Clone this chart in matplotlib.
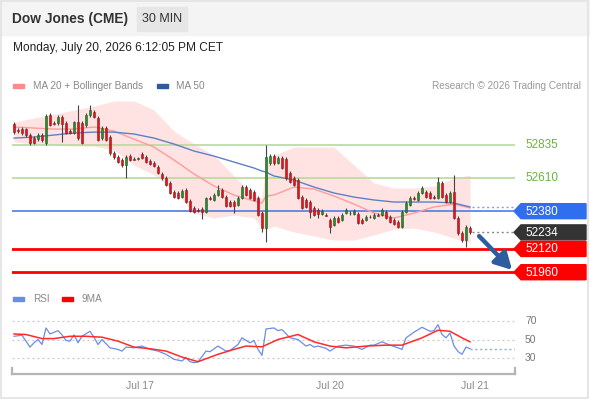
import matplotlib
matplotlib.use("Agg")
import matplotlib.pyplot as plt
from matplotlib.patches import Rectangle, Polygon

plt.rcParams['font.family'] = ['Liberation Sans', 'DejaVu Sans']

# ---------------- data ----------------
opens = [52979,52938,52945,52945,52904,52883,52876,52904,52849,53041,
         52986,52986,53028,52986,52931,52918,52993,52986,52973,53041,
         53062,53021,52883,52952,52890,52780,52752,52732,52697,52759,
         52739,52739,52773,52752,52725,52711,52684,52636,52608,52574,
         52512,52505,52477,52525,52450,52402,52388,52395,52374,52470,
         52457,52491,52525,52477,52443,52443,52422,52470,52546,52525,
         52512,52470,52367,52264,52711,52759,52711,52746,52739,52642,
         52608,52594,52477,52457,52443,52402,52388,52360,52353,52319,
         52285,52333,52319,52367,52367,52360,52360,52319,52319,52340,
         52333,52353,52353,52374,52340,52319,52305,52271,52374,52422,
         52470,52457,52505,52512,52505,52477,52470,52574,52491,52443,
         52512,52333,52230,52181,52264]
closes = [52924,52931,52918,52904,52849,52849,52904,52869,53035,52973,
          52980,53028,52979,52918,52918,52993,52883,52849,53041,53076,
          53028,52869,52952,52869,52780,52752,52718,52697,52752,52732,
          52735,52746,52746,52718,52704,52691,52642,52608,52560,52505,
          52477,52470,52519,52443,52381,52374,52384,52374,52470,52466,
          52491,52525,52477,52415,52415,52415,52470,52546,52491,52470,
          52457,52353,52264,52752,52759,52711,52746,52677,52608,52581,
          52560,52470,52402,52409,52374,52353,52360,52381,52350,52271,
          52333,52305,52353,52388,52364,52381,52298,52298,52340,52337,
          52353,52350,52388,52333,52305,52292,52271,52374,52436,52470,
          52466,52505,52539,52477,52470,52473,52581,52477,52443,52505,
          52333,52230,52181,52271,52234]
highs = [52993,52952,52959,52952,52918,52897,52918,52918,53048,53055,
         53000,53041,53041,53000,52945,53000,53110,53000,53055,53110,
         53076,53035,52966,52966,52904,52794,52766,52746,52766,52773,
         52752,52752,52787,52766,52739,52725,52697,52649,52622,52587,
         52525,52519,52532,52539,52464,52415,52402,52409,52477,52484,
         52505,52560,52539,52491,52457,52457,52484,52560,52560,52539,
         52525,52484,52381,52835,52773,52773,52759,52759,52752,52656,
         52622,52608,52491,52470,52457,52415,52402,52395,52367,52333,
         52347,52347,52367,52402,52381,52395,52374,52333,52353,52353,
         52367,52367,52402,52388,52353,52333,52319,52388,52450,52484,
         52484,52519,52553,52525,52519,52491,52615,52587,52505,52519,
         52629,52347,52243,52285,52278]
lows = [52911,52918,52904,52890,52835,52842,52863,52856,52835,52966,
        52973,52973,52856,52911,52911,52911,52869,52842,52959,53028,
        53021,52863,52869,52863,52766,52739,52711,52684,52608,52725,
        52732,52732,52739,52711,52697,52684,52636,52594,52553,52498,
        52470,52464,52470,52436,52374,52367,52374,52326,52367,52457,
        52450,52484,52470,52409,52409,52367,52415,52464,52484,52464,
        52450,52347,52237,52168,52697,52697,52704,52670,52594,52574,
        52553,52464,52395,52402,52333,52347,52333,52353,52347,52230,
        52278,52298,52312,52360,52353,52353,52292,52292,52312,52333,
        52326,52347,52347,52326,52298,52285,52264,52264,52367,52415,
        52457,52450,52498,52470,52464,52464,52464,52470,52436,52436,
        52326,52216,52168,52133,52223]

# indicator readings (candle index -> value)
ind_idx = [0,5,10,15,20,25,30,35,40,45,50,55,60,62,63,65,70,75,80,85,90,95,100,105,110,114]
bb_upper = [52993,53021,53048,53076,53103,53138,53138,53076,52931,52842,
            52766,52622,52491,52470,52732,52766,52821,52821,52821,52697,
            52574,52539,52539,52553,52608,52629]
bb_lower = [52856,52842,52835,52828,52828,52801,52697,52629,52525,52367,
            52333,52353,52333,52264,52250,52278,52237,52209,52181,52181,
            52216,52257,52264,52237,52195,52161]
ma20 = [52959,52952,52945,52945,52959,52931,52876,52821,52732,52636,
        52553,52491,52450,52436,52484,52491,52546,52532,52484,52429,
        52367,52333,52367,52409,52429,52402]
ma50 = [52883,52890,52904,52918,52924,52924,52911,52883,52842,52794,
        52759,52718,52677,52656,52649,52622,52594,52546,52505,52477,
        52457,52443,52443,52443,52436,52409]

rsi_idx = [0,2,4,5,6,7,8,9,11,12,13,14,15,16,17,19,20,21,22,24,
           26,27,28,30,32,34,36,38,40,42,43,44,45,46,48,49,51,53,54,56,
           57,59,60,61,62,63,65,66,67,69,71,73,74,75,76,78,79,81,83,85,
           87,89,90,92,94,96,97,98,100,102,104,105,106,107,108,109,110,111,112,113,
           114]
rsi_val = [53.5,54.6,41.8,46.4,50,44.6,62.5,56,59.6,55,49,48.2,55,46.4,53.5,58.9,52.5,44.6,50,41,
           39.3,37.5,41.8,41,42.9,39.3,37.5,34,28.6,26.8,30.4,26,25,25.7,37.5,36.8,42.9,37.5,38.2,44.6,
           51.8,46.4,48.9,39.3,32.9,61.4,62.5,59.6,60.7,51.8,50,42.9,44.6,41.8,42.9,40.4,37.5,42.9,43.9,42.9,
           39.3,43.9,43.9,47.5,43.9,41,39.3,51.8,57.9,63.2,58.9,59.6,66,55.4,51.8,57,43,37,34,41.8,
           40]
ma9_idx = [0,3,7,10,14,18,22,26,30,34,38,42,46,51,55,58,62,66,71,75,79,83,88,93,97,102,106,109,112,114]
ma9_val = [56,55.4,51,51,53.5,53.5,52.5,48.2,41.8,40,37.5,31,26,34,39.3,42.9,42.1,50,55.4,47.5,
           42.9,41,42.9,43.9,43.9,51.8,60,58.9,51.8,47.5]

resist_levels = [52835, 52610]
pivot_level = 52380
last_price = 52234
support_levels = [52120, 51960]
rsi_levels = [70, 50, 30]
tick_labels = ["Jul 17", "Jul 20", "Jul 21"]
tick_idx = [31.5, 79, 115.25]

# ---------------- figure ----------------
W, H = 590, 400
fig = plt.figure(figsize=(W/100, H/100), dpi=100)
fig.patch.set_facecolor('white')

def rect(x, y, w, h):
    return [x/W, 1-(y+h)/H, w/W, h/H]

ov = fig.add_axes([0, 0, 1, 1], zorder=0)
ov.set_xlim(0, W); ov.set_ylim(H, 0); ov.axis('off')
ov.patch.set_alpha(0)

# header
ov.add_patch(Rectangle((0, 0), W, 35, color='#f4f4f4', zorder=0))
ov.add_patch(Rectangle((1, 1), W-3, H-3, fill=False, ec='#e2e2e2', lw=1.2, zorder=1))
ov.text(12, 19.5, "Dow Jones (CME)", fontsize=9.9, fontweight='bold', color='#333333', va='center', ha='left')
ov.add_patch(Rectangle((137, 7), 50, 24, color='#e6e6e6', zorder=1))
ov.text(162, 19.5, "30 MIN", fontsize=9, color='#333333', va='center', ha='center', zorder=2)
ov.text(13, 48, "Monday, July 20, 2026 6:12:05 PM CET", fontsize=8.6, color='#222222', va='center', ha='left')

# legends
ov.add_patch(Rectangle((13, 84), 11, 4, color='#ff8a8a'))
ov.text(33, 86, "MA 20 + Bollinger Bands", fontsize=7.2, color='#888888', va='center')
ov.add_patch(Rectangle((157, 84), 11, 4, color='#2f5a9e'))
ov.text(176, 86, "MA 50", fontsize=7.2, color='#888888', va='center')
ov.text(581, 86, "Research \u00a9 2026 Trading Central", fontsize=7.2, color='#999999', va='center', ha='right')
ov.add_patch(Rectangle((13, 297), 11, 4, color='#6b8ce8'))
ov.text(33, 299, "RSI", fontsize=7.2, color='#888888', va='center')
ov.add_patch(Rectangle((62, 297), 11, 4, color='#ff0000'))
ov.text(82, 299, "9MA", fontsize=7.2, color='#888888', va='center')

# ---------------- main price axes ----------------
ax = fig.add_axes(rect(12, 100, 503, 185), zorder=1)
ax.set_xlim(-0.5, 125.25)
ax.set_ylim(51872, 53145)
ax.axis('off')
ax.patch.set_alpha(0)

ax.fill_between(ind_idx, bb_lower, bb_upper, color='#ffe3e3', lw=0, zorder=1)
for lv in resist_levels:
    ax.axhline(lv, color='#b6dc98', lw=1.2, zorder=2)
ax.axhline(pivot_level, color='#4f7de0', lw=1.2, zorder=2)
for lv in support_levels:
    ax.axhline(lv, color='#ff0000', lw=2, zorder=2)
ax.plot(ind_idx, ma20, color='#ff9b9b', lw=1, zorder=3)
ax.plot(ind_idx, ma50, color='#5d80c4', lw=1, zorder=3)

n = len(closes)
xs = list(range(n))
ax.plot([n - 0.5, 125.25], [last_price, last_price], color='#888888', lw=1, ls=(0, (1.5, 2)), zorder=3)
ax.plot([n - 0.5, 125.25], [ma50[-1], ma50[-1]], color='#8aa0cf', lw=1, ls=(0, (1.5, 2)), zorder=3)

for i in xs:
    o, c, h, l = opens[i], closes[i], highs[i], lows[i]
    up = c >= o
    col = '#2b8a2b' if up else '#e0141b'
    ec = '#1f5f1f' if up else '#a01015'
    ax.vlines(i, l, h, color='#444444', lw=0.8, zorder=4)
    bot = min(o, c)
    hgt = max(abs(c - o), 6)
    ax.add_patch(Rectangle((i - 0.36, bot), 0.72, hgt, facecolor=col, edgecolor=ec, lw=0.4, zorder=5))

ax.annotate("", xy=(125.0, 51962), xytext=(115.8, 52222),
            arrowprops=dict(arrowstyle='-|>,head_length=1.0,head_width=0.55', color='#2d5d9f', lw=3.2),
            zorder=6, annotation_clip=False)

# price tags
def ypx(p):
    return H - ax.transData.transform((0, p))[1]

for lv in resist_levels:
    ov.text(525, ypx(lv), f"{lv}", fontsize=8.5, color='#6fb33f', va='center', ha='left')

def tag(p, color):
    y = ypx(p)
    ov.add_patch(Polygon([(514, y), (521, y - 7.5), (586, y - 7.5), (586, y + 7.5), (521, y + 7.5)],
                         closed=True, color=color, zorder=3))
    ov.text(525, y + 0.5, f"{p}", fontsize=8.5, color='white', va='center', ha='left', zorder=4)

tag(pivot_level, '#2f6fef')
tag(last_price, '#333333')
for lv in support_levels:
    tag(lv, '#ff0000')

# ---------------- RSI axes ----------------
rx = fig.add_axes(rect(12, 310, 503, 64), zorder=1)
rx.set_xlim(-0.5, 125.25)
rx.set_ylim(12.7, 81.9)
rx.patch.set_alpha(0)
for s in ['top', 'right', 'left']:
    rx.spines[s].set_visible(False)
rx.spines['bottom'].set_color('#b5b5b5')
rx.spines['bottom'].set_linewidth(1.6)
rx.set_yticks([])
rx.set_xticks(tick_idx)
rx.set_xticklabels(tick_labels, fontsize=7.5, color='#888888')
rx.tick_params(axis='x', length=0, pad=5)
for xe in (0, 1):
    rx.plot([xe, xe], [0, 0.09], transform=rx.transAxes, color='#b5b5b5', lw=1.6, clip_on=False)

for lv in rsi_levels:
    rx.axhline(lv, color='#c8c8c8', lw=0.9, ls=(0, (1.5, 2.5)), zorder=1)
    ov.text(525, H - rx.transData.transform((0, lv))[1], f"{lv}", fontsize=7.5, color='#777777', va='center', ha='left')

rx.plot(rsi_idx, rsi_val, color='#6b8ce8', lw=0.9, zorder=3)
rx.plot(ma9_idx, ma9_val, color='#ff2a2a', lw=1.1, zorder=4)
rx.plot([rsi_idx[-1], 125.25], [rsi_val[-1], rsi_val[-1]], color='#8fa8ee', lw=1, ls=(0, (1.5, 2)), zorder=3)

fig.savefig("out.png", dpi=100, facecolor='white')
